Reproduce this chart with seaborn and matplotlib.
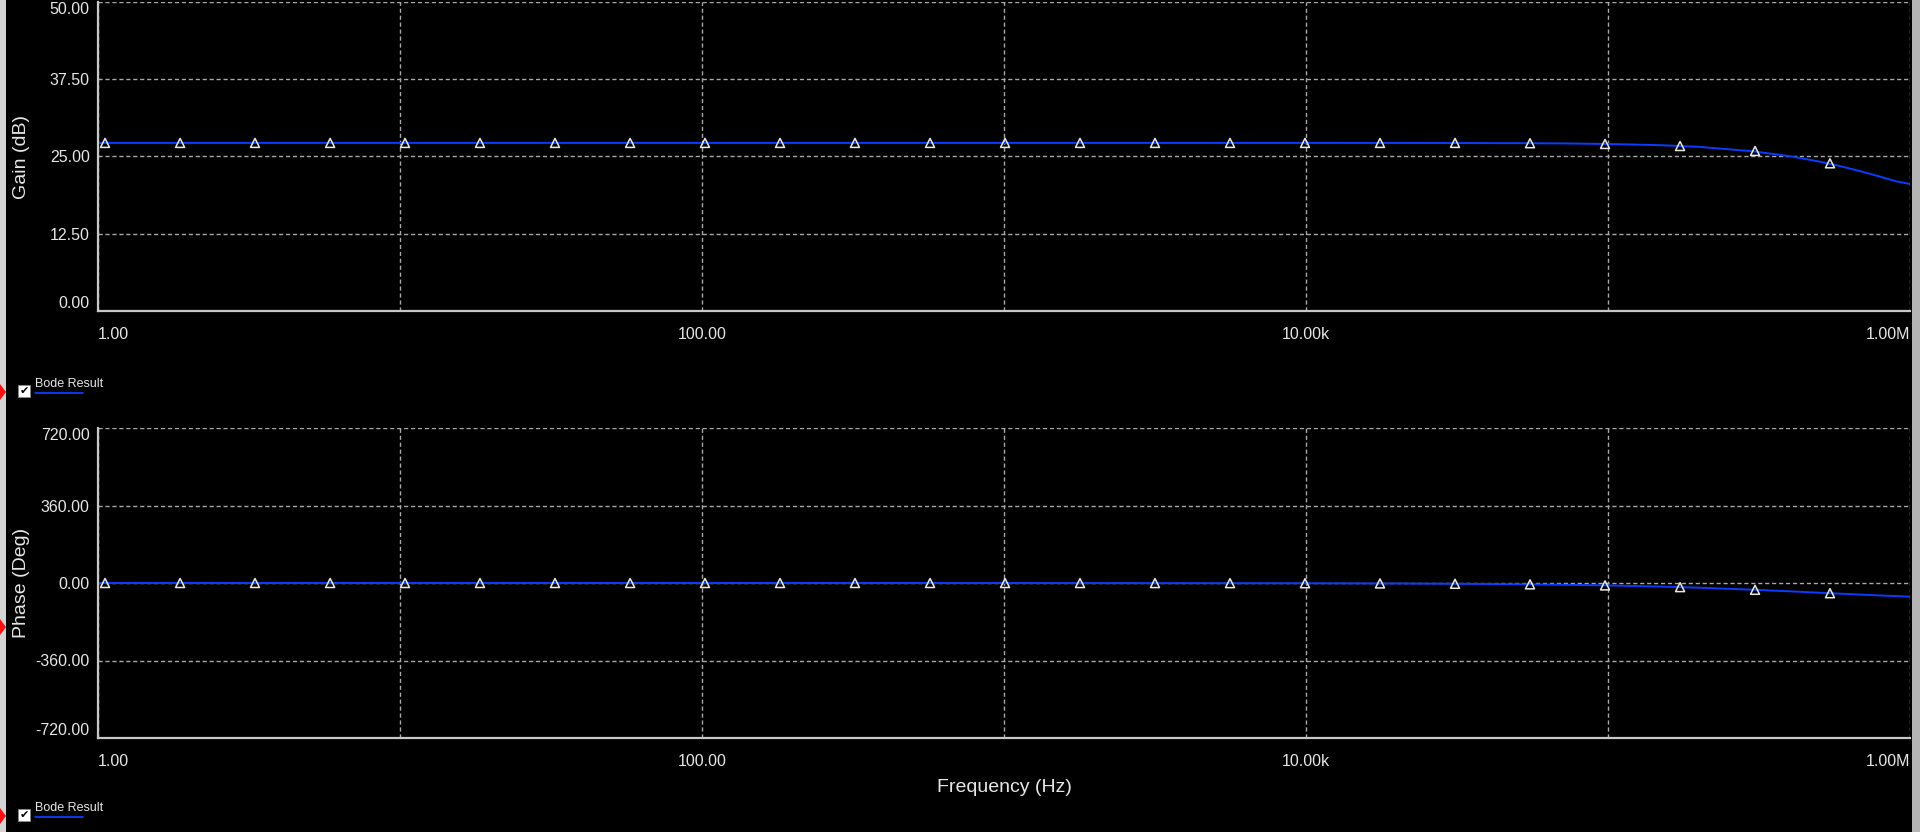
import matplotlib
matplotlib.use("Agg")
import matplotlib.pyplot as plt
import seaborn as sns
from matplotlib.patches import Rectangle, Polygon
from matplotlib.lines import Line2D

# curve samples (Hz)
curve_freq = [1, 10, 100, 1e3, 1e4, 2e4, 3e4, 5e4, 7e4, 1e5, 1.5e5, 2e5, 3e5,
              4e5, 5e5, 6e5, 7e5, 8e5, 9e5, 1e6]
gain_db = [27.2, 27.2, 27.2, 27.2, 27.2, 27.19, 27.18, 27.16, 27.12, 27.03, 26.83,
           26.56, 25.86, 25.05, 24.19, 23.33, 22.50, 21.71, 20.98, 20.55]
phase_deg = [0, 0, 0, -0.1, -1.1, -2.3, -3.4, -5.7, -8.0, -11.3, -16.7, -21.8,
             -31.0, -38.7, -45.0, -50.2, -54.5, -58.0, -60.9, -63.4]

# triangle markers
marker_freq = [1.055, 1.87, 3.31, 5.87, 10.39, 18.4, 32.6, 57.8, 102.3, 181.3, 321,
               569, 1008, 1785, 3162, 5602, 9924, 17580, 31150, 55180, 97750,
               173200, 306800, 543300]
marker_gain = [27.2, 27.2, 27.2, 27.2, 27.2, 27.2, 27.2, 27.2, 27.2, 27.2, 27.2,
               27.2, 27.2, 27.2, 27.2, 27.2, 27.2, 27.2, 27.2, 27.15, 27.03,
               26.7, 25.9, 23.9]
marker_phase = [0, 0, 0, 0, 0, 0, 0, 0, 0, 0, 0, 0, -0.1, -0.2, -0.4, -0.6, -1.1,
                -2.0, -3.6, -6.3, -11.1, -19.1, -31.5, -47.4]

x_ticks = [1, 10, 100, 1e3, 1e4, 1e5, 1e6]
x_labels = ["1.00", "", "100.00", "", "10.00k", "", "1.00M"]
gain_ticks = [0, 12.5, 25, 37.5, 50]
phase_ticks = [-720, -360, 0, 360, 720]

sns.set_style("dark")
plt.rcParams["font.family"] = ["Liberation Sans", "DejaVu Sans"]

W, H = 1920, 832
BLUE = "#0a3cff"
TXT = "#e6e6e6"


def fx(x):
    return x / W


def fy(y):
    return 1 - y / H


fig = plt.figure(figsize=(19.2, 8.32), dpi=100, facecolor="black")
ax1 = fig.add_axes([fx(98), fy(311), 1812 / W, 309 / H])
ax2 = fig.add_axes([fx(98), fy(738), 1812 / W, 310 / H])


def style_axis(ax, yticks):
    ax.set_facecolor("black")
    ax.set_xscale("log")
    ax.set_xlim(1, 1e6)
    ax.set_ylim(yticks[0], yticks[-1])
    ax.set_xticks(x_ticks)
    ax.set_xticklabels(x_labels)
    ax.xaxis.set_minor_locator(matplotlib.ticker.NullLocator())
    ax.set_yticks(yticks)
    ax.set_yticklabels([f"{v:.2f}" for v in yticks])
    ax.grid(True, color="#a8a8a8", linestyle=(0, (3, 2)), linewidth=1.0)
    for s in ["top", "right"]:
        ax.spines[s].set_visible(False)
    for s in ["left", "bottom"]:
        ax.spines[s].set_color("#c8c8c8")
        ax.spines[s].set_linewidth(1.6)
        ax.spines[s].set_zorder(4)
    ax.tick_params(axis="both", colors="#c8c8c8", labelcolor=TXT, length=4,
                   width=1.2, labelsize=11.5)
    ax.tick_params(axis="y", pad=2)
    ax.tick_params(axis="x", pad=7.5)
    lbls = ax.get_xticklabels()
    lbls[0].set_ha("left")
    lbls[-1].set_ha("right")
    ylbls = ax.get_yticklabels()
    ylbls[0].set_va("bottom")
    ylbls[-1].set_va("top")
    ax.set_xlabel("")
    ax.set_ylabel("")


for ax, y, my, ticks in [(ax1, gain_db, marker_gain, gain_ticks),
                         (ax2, phase_deg, marker_phase, phase_ticks)]:
    ax.set_xscale("log")
    sns.lineplot(x=curve_freq, y=y, ax=ax, color=BLUE, linewidth=1.4,
                 legend=False, zorder=2)
    sns.scatterplot(x=marker_freq, y=my, ax=ax, marker="^", s=42,
                    color="white", facecolor="none", edgecolor="#e8e8e8",
                    linewidth=1.1, zorder=3, legend=False)
    style_axis(ax, ticks)

# axis titles
fig.text(fx(22), fy(157), "Gain (dB)", rotation=90, ha="center", va="center",
         color=TXT, fontsize=14)
fig.text(fx(22), fy(583), "Phase (Deg)", rotation=90, ha="center", va="center",
         color=TXT, fontsize=14)
fig.text(fx(1004), fy(787), "Frequency (Hz)", ha="center", va="center",
         color=TXT, fontsize=14)

# window borders
fig.patches.append(Rectangle((0, 0), fx(6), 1, transform=fig.transFigure,
                             facecolor="#d4d4d4", edgecolor="none"))
fig.patches.append(Rectangle((fx(1912), 0), fx(8), 1, transform=fig.transFigure,
                             facecolor="#b4b4b4", edgecolor="none"))

# red pointers
for yc in [392, 627, 816]:
    fig.patches.append(Polygon([(0, fy(yc - 8)), (fx(6), fy(yc)), (0, fy(yc + 8))],
                               closed=True, transform=fig.transFigure,
                               facecolor="#ff1010", edgecolor="none"))

# legends "Bode Result"
for yc in [391, 815]:
    fig.patches.append(Rectangle((fx(18), fy(yc + 6)), fx(12), 12 / H,
                                 transform=fig.transFigure, facecolor="white",
                                 edgecolor="#888888", linewidth=0.6))
    fig.text(fx(24), fy(yc), "\u2714", ha="center", va="center", color="black",
             fontsize=8, family=["DejaVu Sans"])
    fig.text(fx(35), fy(yc - 7), "Bode Result", ha="left", va="center",
             color=TXT, fontsize=9)
    fig.lines.append(Line2D([fx(35), fx(83)], [fy(yc + 2), fy(yc + 2)],
                            transform=fig.transFigure, color=BLUE, linewidth=1.3))

fig.savefig("out.png", dpi=100, facecolor="black")
